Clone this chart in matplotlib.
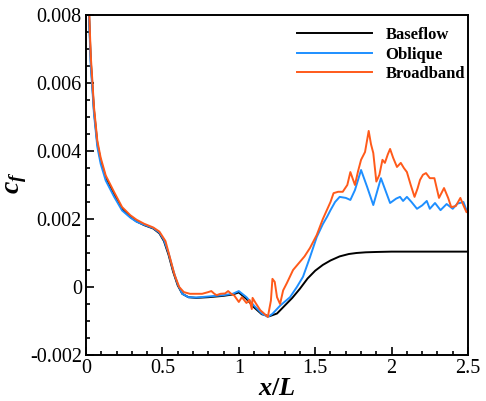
import matplotlib
matplotlib.use('Agg')
import matplotlib.pyplot as plt
import numpy as np
from matplotlib.ticker import MultipleLocator, FixedLocator

plt.rcParams['font.family'] = ['Liberation Serif', 'DejaVu Serif']
plt.rcParams['mathtext.fontset'] = 'custom'
plt.rcParams['mathtext.it'] = 'Liberation Serif:italic:bold'
plt.rcParams['mathtext.rm'] = 'Liberation Serif:bold'

# Baseflow
x_base = [0.017, 0.02, 0.031, 0.041, 0.052, 0.074, 0.096, 0.129, 0.183, 0.236, 0.29, 0.33, 0.38,
          0.44, 0.48, 0.51, 0.54, 0.57, 0.6, 0.63, 0.67, 0.72, 0.8, 0.9, 0.96, 1.0, 1.05, 1.1, 1.15,
          1.2, 1.25, 1.3, 1.35, 1.4, 1.45, 1.5, 1.55, 1.6, 1.66, 1.72, 1.77, 1.83, 1.9, 2.0, 2.2, 2.5]
cf_base = [0.0087, 0.0080, 0.00665, 0.00598, 0.0052, 0.00422, 0.00372, 0.00322, 0.00274, 0.0023,
           0.00206, 0.00193, 0.00182, 0.00172, 0.00158, 0.00135, 0.00095, 0.00045, 0.00005,
           -0.0002, -0.0003, -0.00032, -0.0003, -0.00026, -0.00022, -0.00016, -0.00035, -0.0006,
           -0.0008, -0.00086, -0.00078, -0.00055, -0.00032, -0.00005, 0.00025, 0.00048, 0.00065,
           0.00078, 0.0009, 0.00097, 0.001, 0.00102, 0.00103, 0.00104, 0.00104, 0.00104]

# Oblique
x_obl = [0.017, 0.02, 0.031, 0.041, 0.052, 0.074, 0.096, 0.129, 0.183, 0.236, 0.29, 0.33, 0.38,
         0.44, 0.48, 0.51, 0.54, 0.57, 0.6, 0.63, 0.67, 0.72, 0.8, 0.9, 0.96, 1.0, 1.05, 1.1, 1.15,
         1.19, 1.22, 1.27, 1.335, 1.38, 1.42, 1.466, 1.51, 1.55, 1.577, 1.6, 1.63, 1.66, 1.7, 1.73,
         1.76, 1.8, 1.84, 1.88, 1.93, 1.99, 2.03, 2.055, 2.075, 2.1, 2.13, 2.166, 2.2, 2.23, 2.25,
         2.284, 2.32, 2.36, 2.4, 2.43, 2.47, 2.49, 2.5]
cf_obl = [0.0087, 0.0079, 0.0065, 0.00585, 0.0051, 0.00412, 0.00362, 0.00313, 0.00266, 0.00225,
          0.00204, 0.00192, 0.00183, 0.00173, 0.0016, 0.00138, 0.001, 0.0005, 0.00008,
          -0.0002, -0.0003, -0.00031, -0.00028, -0.00024, -0.0002, -0.00012, -0.0003, -0.00055,
          -0.00078, -0.00088, -0.00079, -0.00055, -0.0003, 0.0, 0.0003, 0.00088, 0.00147, 0.00185,
          0.00206, 0.00226, 0.0025, 0.00265, 0.00262, 0.00256, 0.00285, 0.00344, 0.00294, 0.00241,
          0.0032, 0.00247, 0.0026, 0.00265, 0.00253, 0.00265, 0.0025, 0.0023, 0.0024, 0.00253,
          0.0023, 0.00247, 0.00226, 0.00244, 0.0023, 0.00245, 0.0025, 0.00226, 0.0023]

# Broadband
x_brd = [0.017, 0.02, 0.031, 0.041, 0.052, 0.074, 0.096, 0.129, 0.183, 0.236, 0.29, 0.33, 0.38,
         0.44, 0.48, 0.52, 0.55, 0.58, 0.61, 0.64, 0.68, 0.72, 0.76, 0.8, 0.82, 0.84, 0.855, 0.88,
         0.91, 0.93, 0.95, 0.97, 1.0, 1.02, 1.05, 1.07, 1.085, 1.09, 1.11, 1.14, 1.17, 1.19, 1.21,
         1.22, 1.235, 1.25, 1.27, 1.29, 1.315, 1.355, 1.40, 1.43, 1.466, 1.51, 1.55, 1.6, 1.62,
         1.65, 1.68, 1.71, 1.73, 1.76, 1.78, 1.80, 1.826, 1.85, 1.865, 1.88, 1.90, 1.92, 1.94,
         1.956, 1.975, 1.99, 2.01, 2.035, 2.06, 2.08, 2.10, 2.125, 2.15, 2.17, 2.186, 2.205, 2.225,
         2.25, 2.28, 2.31, 2.343, 2.37, 2.39, 2.42, 2.45, 2.47, 2.49, 2.5]
cf_brd = [0.0089, 0.0082, 0.0068, 0.0061, 0.0053, 0.0043, 0.0038, 0.00328, 0.0028, 0.00235,
          0.00211, 0.00198, 0.00186, 0.00175, 0.00163, 0.00135, 0.00085, 0.00035, 0.0,
          -0.00015, -0.0002, -0.0002, -0.0002, -0.00015, -0.00012, -0.0002, -0.00024, -0.0002,
          -0.00019, -0.00012, -0.0002, -0.00025, -0.00044, -0.0003, -0.00047, -0.00038, -0.00065,
          -0.00032, -0.00047, -0.00068, -0.0008, -0.00088, -0.0004, 0.00024, 0.00015, -0.0003,
          -0.0005, -0.0001, 0.00012, 0.0005, 0.00074, 0.0009, 0.00115, 0.00153, 0.002, 0.0025,
          0.00276, 0.0028, 0.0028, 0.003, 0.00338, 0.003, 0.0034, 0.00374, 0.00397, 0.00459, 0.0042,
          0.00394, 0.0031, 0.0033, 0.00374, 0.00365, 0.0039, 0.00406, 0.0038, 0.00353, 0.00365,
          0.0035, 0.00338, 0.003, 0.00265, 0.0029, 0.00315, 0.0033, 0.00335, 0.0032, 0.0032,
          0.00262, 0.00291, 0.00262, 0.00235, 0.00238, 0.00262, 0.0024, 0.0022, 0.0022]

x_ticks = [0, 0.5, 1, 1.5, 2, 2.5]
x_tick_labels = ['0', '0.5', '1', '1.5', '2', '2.5']
y_ticks = [-0.002, 0, 0.002, 0.004, 0.006, 0.008]
y_tick_labels = ['-0.002', '0', '0.002', '0.004', '0.006', '0.008']

fig = plt.figure(figsize=(4.86, 4.01), dpi=100)
ax = fig.add_axes([0.177, 0.1147, 0.786, 0.848])

ax.plot(x_base, cf_base, color='black', lw=1.4, label='Baseflow')
ax.plot(x_obl, cf_obl, color='#1e8fff', lw=1.4, label='Oblique')
ax.plot(x_brd, cf_brd, color='#ff5a1a', lw=1.4, label='Broadband')

ax.set_xlim(0, 2.5)
ax.set_ylim(-0.002, 0.008)
ax.xaxis.set_major_locator(FixedLocator(x_ticks))
ax.set_xticklabels(x_tick_labels)
ax.yaxis.set_major_locator(FixedLocator(y_ticks))
ax.set_yticklabels(y_tick_labels)
ax.xaxis.set_minor_locator(MultipleLocator(0.1))
ax.yaxis.set_minor_locator(MultipleLocator(0.0005))
ax.tick_params(which='both', direction='in', top=False, right=False, labelsize=14.5, width=1.2)
ax.tick_params(which='major', length=6, pad=3)
ax.tick_params(which='minor', length=3)
for s in ax.spines.values():
    s.set_linewidth(1.4)

ax.set_xlabel('$x/L$', fontsize=19, labelpad=0)
ax.set_ylabel('$c_f$', fontsize=20)
ax.yaxis.set_label_coords(-0.15, 0.506)

leg = ax.legend(loc='upper right', bbox_to_anchor=(0.992, 0.965), frameon=False,
                prop={'weight': 'bold', 'size': 12}, handlelength=4.5, handletextpad=0.78,
                labelspacing=0.22, borderpad=0, borderaxespad=0)

plt.savefig('out.png', dpi=100)
plt.close()
